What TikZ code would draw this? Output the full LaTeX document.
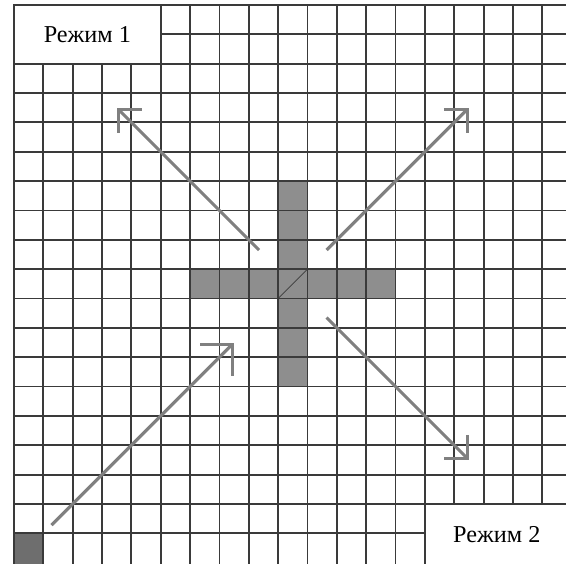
\documentclass[tikz,border=0pt]{standalone}
\usepackage{fontspec}
\setmainfont{Liberation Serif}
\usepackage{xcolor}
\usepackage{tikz}
\usetikzlibrary{arrows.meta}
\definecolor{GridLine}{HTML}{3A3A3A}
\definecolor{CrossFill}{HTML}{8E8E8E}
\definecolor{CornerFill}{HTML}{6E6E6E}
\definecolor{MoveLine}{HTML}{808080}

\begin{document}
\begin{tikzpicture}[y=-1cm,
  gridline/.style={GridLine,line width=1.8pt,line cap=rect},
  modebox/.style={draw=GridLine,line width=1.8pt,fill=white,inner sep=0pt,font=\fontsize{23.5}{28}\selectfont},
  moveline/.style={MoveLine,line width=3pt,-{Straight Barb[angle=90:8mm,line cap=butt,line join=miter]}},
  bigmove/.style={MoveLine,line width=3pt,-{Straight Barb[angle=90:11mm,line cap=butt,line join=miter]}}]
\useasboundingbox (-0.477,-0.17) rectangle (18.807,19.012);
% cells
\fill[CrossFill] (6,9) rectangle (13,10);
\fill[CrossFill] (9,6) rectangle (10,13);
\fill[CornerFill] (0,18) rectangle (1,19.1);
% grid
\foreach \i in {0,...,18} \draw[gridline] (0,\i) -- (19,\i);
\foreach \i in {0,...,18} \draw[gridline] (\i,0) -- (\i,19.2);
\draw[GridLine,line width=0.7pt] (9,10) -- (10,9);
% modes
\node[modebox,minimum width=5cm,minimum height=2cm] (mode1) at (2.5,1) {Режим 1};
\node[modebox,minimum width=4.9cm,minimum height=2.1cm] (mode2) at (16.45,18.05) {Режим 2};
% moves
\coordinate (t1) at (1.28,17.72);
\coordinate (h1) at (7.5,11.5);
\coordinate (t2) at (8.35,8.35);
\coordinate (h2) at (3.5,3.5);
\coordinate (t3) at (10.65,8.35);
\coordinate (h3) at (15.5,3.5);
\coordinate (t4) at (10.65,10.65);
\coordinate (h4) at (15.5,15.5);
\draw[bigmove] (t1) -- (h1);
\draw[moveline] (t2) -- (h2);
\draw[moveline] (t3) -- (h3);
\draw[moveline] (t4) -- (h4);
\end{tikzpicture}
\end{document}
